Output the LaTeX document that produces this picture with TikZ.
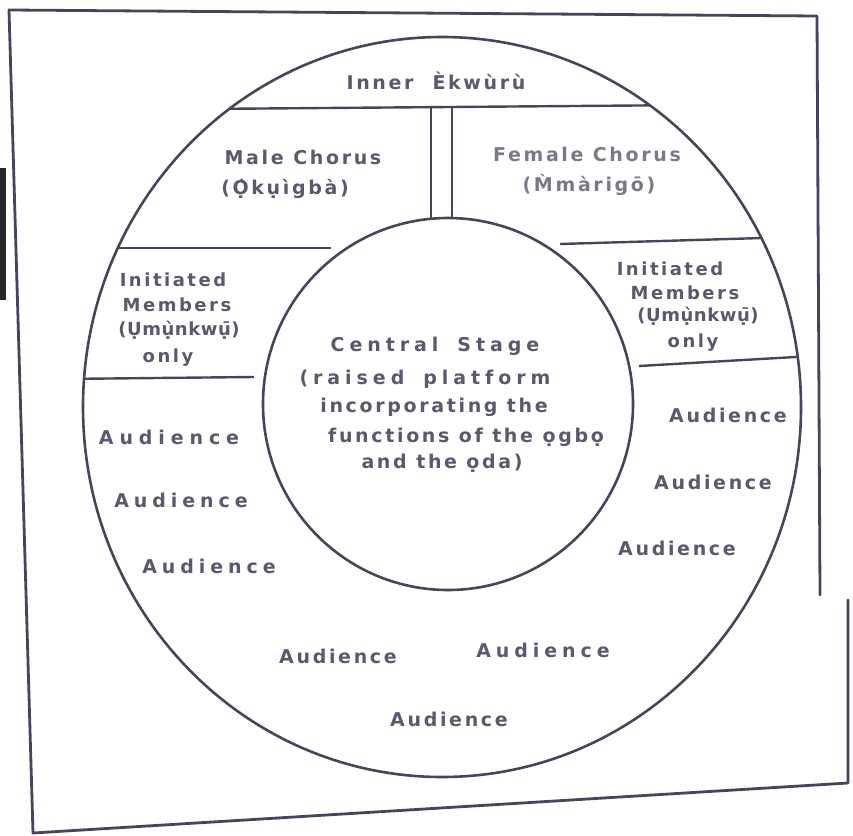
\documentclass[tikz,border=0pt]{standalone}
\usepackage{fontspec}
\setmainfont{DejaVu Sans}[LetterSpace=14]
\definecolor{ln}{RGB}{72,68,92}
\definecolor{tx}{RGB}{92,88,110}
\definecolor{txl}{RGB}{125,120,135}
\begin{document}
\begin{tikzpicture}[x=1pt,y=-1pt,
  lbl/.style={text=tx,font=\fontsize{19}{22}\selectfont\bfseries,inner sep=0pt},
  stk/.style={text=tx,font=\fontsize{18}{20}\selectfont\bfseries,inner sep=0pt},
  aud/.style={lbl},
  wide/.style={font=\fontsize{19}{22}\selectfont\bfseries\addfontfeature{LetterSpace=26}},
  wider/.style={font=\fontsize{19}{22}\selectfont\bfseries\addfontfeature{LetterSpace=31}},
  tight/.style={font=\fontsize{18}{20}\selectfont\bfseries\addfontfeature{LetterSpace=3}},
  frame/.style={draw=ln,line width=2.8pt,line join=round,line cap=round},
  ring/.style={draw=ln,line width=2.6pt},
  part/.style={draw=ln,line width=2.4pt}]
\useasboundingbox (0,0) rectangle (853,835);
% frame
\draw[frame] (820,595) -- (817,16) -- (9,10) -- (33,833) -- (848,783) -- (848,600);
\fill[black!85] (0,168) rectangle (6,300);
% circles
\draw[ring] (442,407) ellipse [x radius=359, y radius=370];
\draw[ring] (448,404) ellipse [x radius=185, y radius=186];
% partitions
\begin{scope}
\clip (442,407) ellipse [x radius=359, y radius=370];
\draw[part] (200,109) -- (700,105);
\draw[part] (60,248) -- (331,248);
\draw[part] (560,244) -- (830,236);
\draw[part] (60,379) -- (254,377);
\draw[part] (639,366) -- (830,355);
\end{scope}
\draw[part] (431,107) -- (431,219);
\draw[part] (452,107) -- (452,219);
% texts
\node[lbl] (ek) at (436,81) {Inner\quad Èkwùrù};
\node[lbl] (mc) at (303,157) {Male\enspace Chorus};
\node[lbl] (mo) at (285,189) {(Ọ̀kụìgbà)};
\node[lbl,text=txl] (fc) at (587,154) {Female Chorus};
\node[lbl,text=txl] (fm) at (589,185) {(M̀màrigō)};
\node[stk] (l1) at (173,280) {Initiated};
\node[stk] (l2) at (177,305) {Members};
\node[stk,tight] (l3) at (179,330) {(Ụmụ̀nkwụ̄)};
\node[stk] (l4) at (168,358) {only};
\node[stk] (r1) at (670,269) {Initiated};
\node[stk] (r2) at (685,293) {Members};
\node[stk,tight] (r3) at (698,316) {(Ụmụ̀nkwụ̄)};
\node[stk] (r4) at (693,343) {only};
\node[lbl,wide] (c1) at (435,346) {Central\quad Stage};
\node[lbl,wide] (c2) at (425,379) {(raised\quad platform};
\node[lbl] (c3) at (434,407) {incorporating the};
\node[lbl] (c4) at (466,437) {functions\enspace of the\enspace ọgbọ};
\node[lbl] (c5) at (442,463) {and\enspace the ọda)};
\node[aud,wider] (a1) at (169,437) {Audience};
\node[aud,wide] (a2) at (181,500) {Audience};
\node[aud,wide] (a3) at (209,566) {Audience};
\node[aud] (a4) at (728,415) {Audience};
\node[aud] (a5) at (713,482) {Audience};
\node[aud] (a6) at (677,548) {Audience};
\node[aud] (a7) at (338,656) {Audience};
\node[aud,wide] (a8) at (543,650) {Audience};
\node[aud] (a9) at (449,719) {Audience};
\end{tikzpicture}
\end{document}
